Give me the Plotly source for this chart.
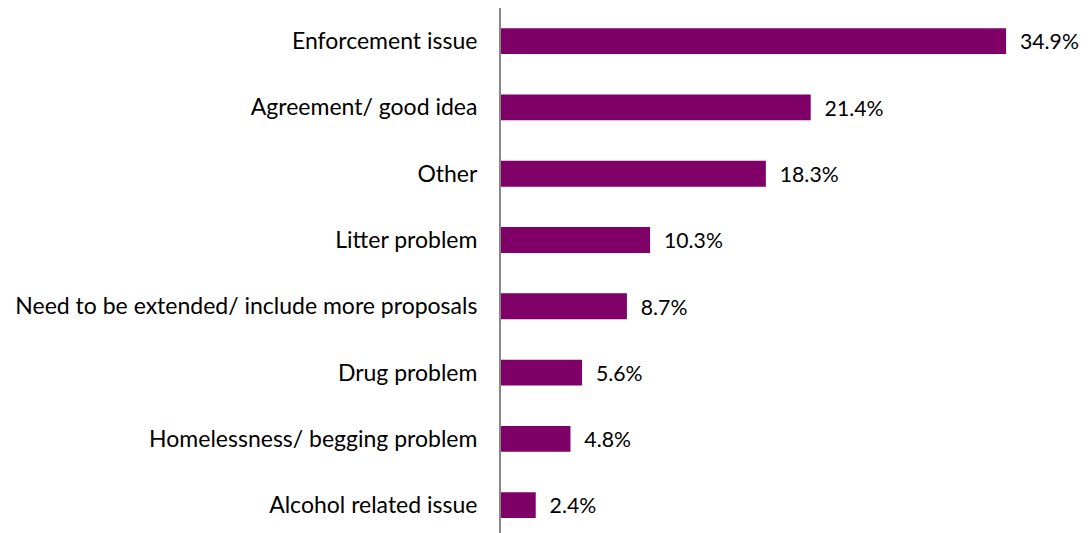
import plotly.graph_objects as go

categories = [
    "Enforcement issue",
    "Agreement/ good idea",
    "Other",
    "Litter problem",
    "Need to be extended/ include more proposals",
    "Drug problem",
    "Homelessness/ begging problem",
    "Alcohol related issue",
]
values = [34.9, 21.4, 18.3, 10.3, 8.7, 5.6, 4.8, 2.4]
labels = ["34.9%", "21.4%", "18.3%", "10.3%", "8.7%", "5.6%", "4.8%", "2.4%"]

fig = go.Figure(
    go.Bar(
        x=values,
        y=categories,
        orientation="h",
        marker=dict(color="#7F0066", line=dict(width=0)),
        width=0.39,
        text=["  " + t for t in labels],
        textposition="outside",
        cliponaxis=False,
        textfont=dict(family="Lato", size=23, color="#000000"),
    )
)

fig.update_layout(
    width=1080,
    height=525,
    margin=dict(l=493, r=10, t=0, b=0, autoexpand=False),
    paper_bgcolor="white",
    plot_bgcolor="white",
    showlegend=False,
    font=dict(family="Lato", size=23, color="#000000"),
    xaxis=dict(
        range=[0, 39.87],
        showgrid=False,
        zeroline=False,
        showticklabels=False,
        showline=False,
        fixedrange=True,
        automargin=False,
    ),
    yaxis=dict(
        categoryorder="array",
        categoryarray=categories,
        range=[7.42, -0.5],
        showgrid=False,
        zeroline=False,
        showline=True,
        linecolor="#888888",
        linewidth=2,
        ticks="",
        ticklabelstandoff=17,
        fixedrange=True,
        automargin=False,
    ),
)

fig.write_html("out.html", config={"displayModeBar": False})
